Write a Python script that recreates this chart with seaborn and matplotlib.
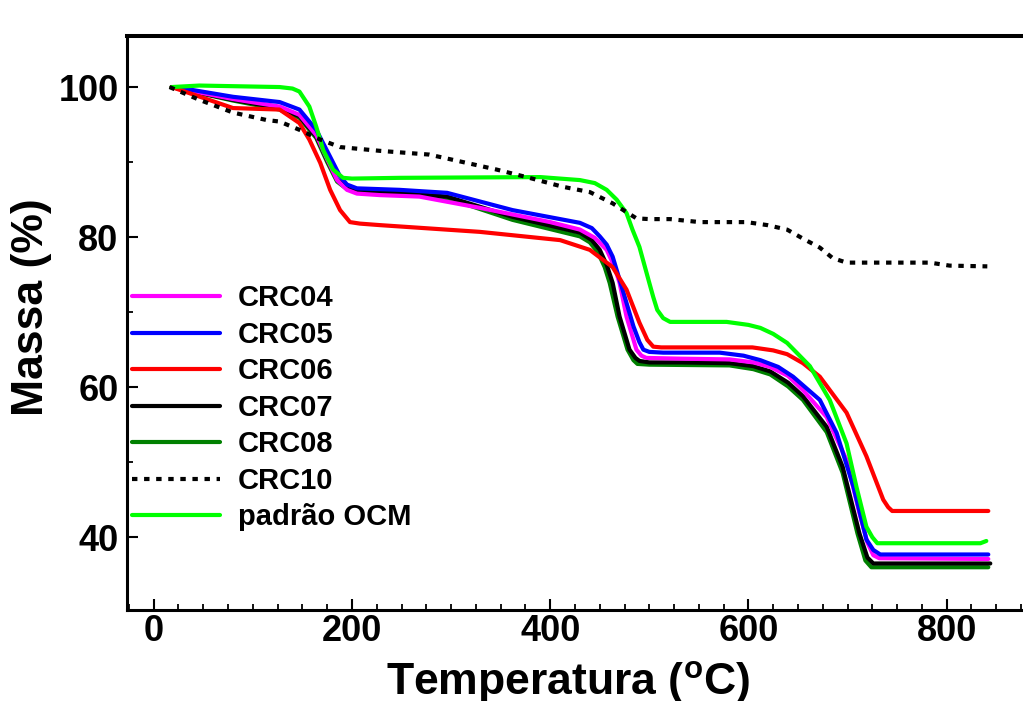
import numpy as np
import pandas as pd
import matplotlib
matplotlib.use("Agg")
import matplotlib.pyplot as plt
from matplotlib.ticker import MultipleLocator
import seaborn as sns

# ---- data ----
crc04_t = [18, 80, 127, 147, 164, 175, 185, 195, 205, 228, 268, 329, 400, 430, 445, 457, 465, 470, 477, 487, 492, 497, 531, 581, 605, 622, 640, 655, 679, 699, 712, 720, 726, 732, 842]
crc04_m = [100, 98.4, 97.4, 96.3, 93.6, 90.4, 87.6, 86.3, 85.8, 85.6, 85.4, 83.9, 82.0, 81.0, 79.9, 78.3, 76.0, 73.9, 69.4, 65.0, 64.2, 63.9, 63.8, 63.7, 63.3, 62.7, 61.5, 59.6, 56.0, 50.3, 43.2, 39.3, 37.6, 37.2, 37.1]

crc05_t = [18, 26, 80, 127, 147, 164, 178, 188, 195, 205, 248, 296, 362, 430, 442, 450, 457, 463, 473, 484, 490, 494, 500, 514, 571, 595, 612, 630, 645, 672, 689, 706, 719, 726, 733, 842]
crc05_m = [100, 99.9, 98.7, 98.0, 97.0, 94.3, 90.7, 88.1, 87.0, 86.5, 86.3, 85.9, 83.6, 81.9, 81.2, 80.1, 79.0, 77.4, 73.0, 68.1, 66.0, 65.0, 64.7, 64.6, 64.6, 64.2, 63.6, 62.7, 61.4, 58.3, 53.9, 46.7, 39.7, 38.3, 37.7, 37.7]

crc06_t = [18, 80, 127, 147, 157, 168, 178, 188, 198, 208, 228, 329, 410, 440, 463, 477, 490, 498, 504, 512, 531, 604, 625, 639, 655, 672, 699, 719, 736, 741, 745, 842]
crc06_m = [100, 97.2, 97.0, 95.2, 93.0, 89.9, 86.3, 83.6, 82.0, 81.8, 81.6, 80.7, 79.6, 78.3, 76.0, 73.0, 68.6, 66.3, 65.4, 65.3, 65.3, 65.3, 64.9, 64.4, 63.2, 61.4, 56.6, 50.8, 45.0, 44.0, 43.5, 43.5]

crc07_t = [18, 80, 127, 147, 164, 175, 185, 195, 205, 248, 296, 362, 430, 442, 450, 457, 463, 470, 480, 486, 490, 500, 531, 581, 605, 622, 640, 655, 679, 695, 712, 720, 726, 844]
crc07_m = [100, 98.3, 97.2, 96.1, 93.4, 90.3, 87.6, 86.6, 86.1, 85.9, 85.4, 82.7, 80.6, 79.6, 78.3, 76.3, 73.9, 69.4, 65.0, 63.9, 63.5, 63.3, 63.3, 63.2, 62.8, 62.1, 60.6, 58.8, 54.7, 49.4, 40.5, 37.3, 36.5, 36.5]

crc08_t = [18, 80, 127, 147, 164, 175, 185, 195, 205, 248, 296, 362, 430, 440, 448, 455, 460, 468, 478, 484, 488, 500, 581, 605, 622, 640, 655, 679, 695, 710, 718, 724, 842]
crc08_m = [100, 98.2, 97.0, 95.9, 93.2, 90.0, 87.4, 86.4, 86.0, 85.9, 85.2, 82.3, 80.1, 79.3, 78.0, 76.0, 73.9, 69.4, 65.0, 63.6, 63.1, 63.0, 62.9, 62.4, 61.7, 60.1, 58.3, 54.0, 48.6, 40.5, 36.9, 36.0, 36.0]

crc10_t = [16, 46, 80, 114, 127, 147, 168, 188, 228, 278, 312, 346, 379, 413, 440, 463, 487, 500, 521, 551, 598, 619, 639, 655, 672, 685, 699, 783, 803, 841]
crc10_m = [100, 98.3, 96.6, 95.6, 95.4, 94.3, 93.0, 92.0, 91.5, 91.0, 90.0, 89.0, 87.9, 86.7, 86.0, 84.5, 82.5, 82.4, 82.4, 82.0, 82.0, 81.6, 81.0, 79.8, 78.6, 77.2, 76.6, 76.6, 76.2, 76.1]

ocm_t = [18, 46, 127, 140, 147, 157, 164, 171, 181, 191, 200, 248, 390, 430, 445, 457, 467, 477, 483, 490, 495, 500, 504, 508, 514, 521, 578, 600, 612, 625, 639, 662, 682, 699, 709, 719, 725, 730, 834, 840]
ocm_m = [100, 100.2, 100.0, 99.8, 99.4, 97.4, 94.7, 91.6, 89.0, 87.9, 87.8, 87.9, 88.0, 87.6, 87.2, 86.3, 85.0, 83.2, 81.0, 78.7, 76.3, 73.9, 72.0, 70.3, 69.2, 68.7, 68.7, 68.3, 67.9, 67.1, 65.9, 62.8, 58.3, 52.5, 46.7, 41.4, 40.0, 39.2, 39.2, 39.5]

legend_order = ["CRC04", "CRC05", "CRC06", "CRC07", "CRC08", "CRC10", "padrão OCM"]
xticks = [0, 200, 400, 600, 800]
yticks = [40, 60, 80, 100]

series = {
    "CRC04": (crc04_t, crc04_m),
    "CRC05": (crc05_t, crc05_m),
    "CRC06": (crc06_t, crc06_m),
    "CRC07": (crc07_t, crc07_m),
    "CRC08": (crc08_t, crc08_m),
    "CRC10": (crc10_t, crc10_m),
    "padrão OCM": (ocm_t, ocm_m),
}
colors = {
    "CRC04": "#FF00FF", "CRC05": "#0000FF", "CRC06": "#FF0000",
    "CRC07": "#000000", "CRC08": "#008000", "CRC10": "#000000",
    "padrão OCM": "#00FF00",
}
draw_order = ["CRC08", "CRC07", "CRC04", "CRC05", "CRC06", "padrão OCM", "CRC10"]

# ---- style ----
sns.set_theme(style="white")
plt.rcParams["font.family"] = ["Liberation Sans", "DejaVu Sans"]
plt.rcParams["font.weight"] = "bold"
plt.rcParams["text.color"] = "black"
plt.rcParams["axes.labelcolor"] = "black"
plt.rcParams["xtick.color"] = "black"
plt.rcParams["ytick.color"] = "black"
plt.rcParams["mathtext.fontset"] = "custom"
plt.rcParams["mathtext.rm"] = "Liberation Sans:bold"
plt.rcParams["mathtext.bf"] = "Liberation Sans:bold"
plt.rcParams["mathtext.it"] = "Liberation Sans:bold:italic"

fig = plt.figure(figsize=(10.23, 7.01), dpi=100)
ax = fig.add_axes([0.1241, 0.1298, 0.8759, 0.8188])

handles = {}
for name in draw_order:
    t, m = series[name]
    df = pd.DataFrame({"T": t, "M": m})
    ls = (0, (1.3, 1.6)) if name == "CRC10" else "-"
    sns.lineplot(data=df, x="T", y="M", ax=ax, color=colors[name], lw=3.0,
                 linestyle=ls, sort=False, estimator=None, label=name, legend=False)
    line = ax.lines[-1]
    line.set_solid_joinstyle("round")
    handles[name] = line

ax.set_xlim(-27, 877)
ax.set_ylim(30.3, 106.8)
ax.set_xticks(xticks)
ax.set_yticks(yticks)
ax.xaxis.set_minor_locator(MultipleLocator(25))
ax.yaxis.set_minor_locator(MultipleLocator(10))

ax.tick_params(axis="both", which="major", direction="in", length=8, width=1.5,
               labelsize=26, colors="black")
ax.tick_params(axis="both", which="minor", direction="in", length=4, width=1.3)
ax.tick_params(axis="x", which="both", bottom=True, top=False, pad=3)
ax.tick_params(axis="y", which="both", left=True, right=False, pad=6)
for lab in ax.get_xticklabels() + ax.get_yticklabels():
    lab.set_fontweight("bold")

for s in ["left", "bottom"]:
    ax.spines[s].set_linewidth(2.2)
    ax.spines[s].set_color("black")
ax.spines["top"].set_linewidth(2.9)
ax.spines["top"].set_color("black")
ax.spines["right"].set_visible(False)

ax.set_xlabel(r"Temperatura ($^{\mathbf{o}}$C)", fontsize=32, fontweight="bold", color="black")
ax.set_ylabel("Massa (%)", fontsize=32, fontweight="bold", color="black")
ax.xaxis.set_label_coords(0.492, -0.085)
ax.yaxis.set_label_coords(-0.0837, 0.528)

leg = ax.legend([handles[n] for n in legend_order], legend_order,
                loc="upper left", bbox_to_anchor=(132 / 1023, (701 - 284.5) / 701),
                bbox_transform=fig.transFigure, frameon=False,
                borderpad=0, borderaxespad=0, handlelength=3.0,
                handletextpad=0.62, labelspacing=0.29,
                prop={"size": 21, "weight": "bold"})
for txt in leg.get_texts():
    txt.set_color("black")

fig.savefig("out.png", dpi=100)
